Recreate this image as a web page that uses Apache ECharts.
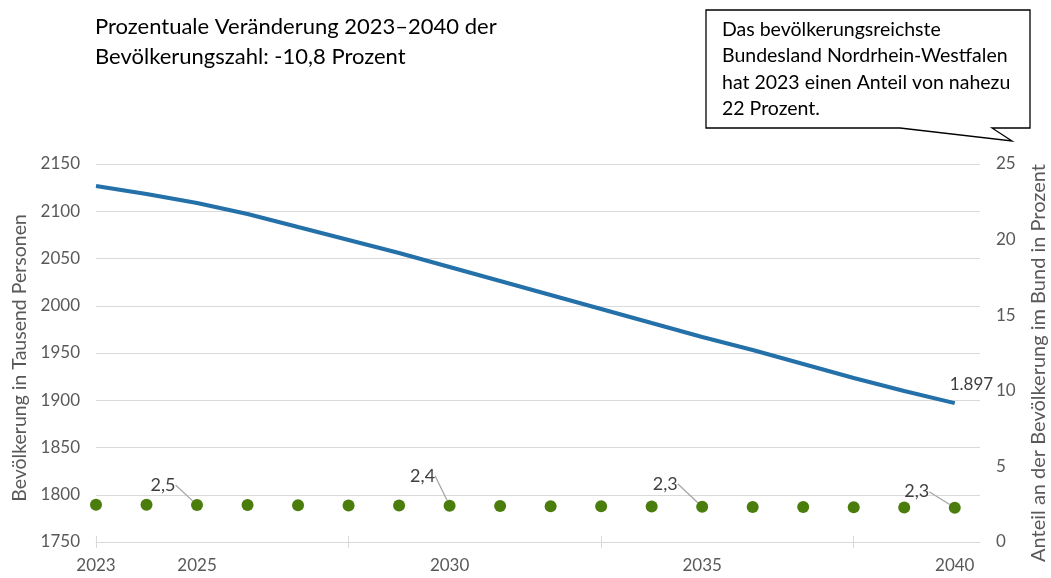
<!DOCTYPE html>
<html>
<head>
<meta charset="utf-8">
<script src="https://cdn.jsdelivr.net/npm/echarts@6/dist/echarts.min.js"></script>
<style>
html,body{margin:0;padding:0;background:#fff;}
#c{width:1051px;height:578px;}
</style>
</head>
<body>
<div id="c"></div>
<script>
const years = [2023,2024,2025,2026,2027,2028,2029,2030,2031,2032,2033,2034,2035,2036,2037,2038,2039,2040];
const population = [2126.7,2118.3,2108.7,2097.1,2083.3,2069.6,2055.8,2041.0,2026.2,2011.4,1996.6,1981.7,1966.9,1953.2,1938.4,1923.6,1909.8,1897.0];
const share = [2.47,2.46,2.45,2.44,2.43,2.42,2.41,2.40,2.38,2.37,2.36,2.35,2.33,2.32,2.31,2.30,2.28,2.27];
const xLabelValues = [2023,2025,2030,2035,2040];
const xTickValues = [2023,2028,2033,2038];
const labeledShareYears = [2025,2030,2035,2040];
const titleLines = ['Prozentuale Veränderung 2023–2040 der','Bevölkerungszahl: -10,8 Prozent'];
const calloutLines = ['Das bevölkerungsreichste','Bundesland Nordrhein-Westfalen','hat 2023 einen Anteil von nahezu','22 Prozent.'];
const leftAxisName = 'Bevölkerung in Tausend Personen';
const rightAxisName = 'Anteil an der Bevölkerung im Bund in Prozent';

const FONT = 'Lato';
const TXT = '#595959';
const labelOffsets = {2025:[-34,-20],2030:[-27,-30],2035:[-37,-23],2040:[-38,-16]};

const chart = echarts.init(document.getElementById('c'), null, {renderer:'canvas'});
const fmt = v => v.toFixed(1).replace('.', ',');

chart.setOption({
  animation:false,
  textStyle:{fontFamily:FONT},
  grid:{left:96,right:71,top:164,bottom:36,containLabel:false,outerBoundsMode:'none'},
  xAxis:[{
    type:'value', min:2023, max:2040.5,
    axisLine:{show:true,lineStyle:{color:'#d9d9d9',width:1}},
    axisTick:{show:true,customValues:xTickValues,length:6,lineStyle:{color:'#d9d9d9'}},
    axisLabel:{show:true,customValues:xLabelValues,color:TXT,fontSize:17,fontFamily:FONT,margin:15,formatter:v=>String(v)},
    splitLine:{show:false}
  },{
    type:'value', min:2023, max:2040.5, position:'bottom',
    axisLine:{show:false},
    axisTick:{show:true,inside:true,customValues:xTickValues,length:6,lineStyle:{color:'#d9d9d9'}},
    axisLabel:{show:false},
    splitLine:{show:false}
  }],
  yAxis:[{
    type:'value', min:1750, max:2150, interval:50,
    name:leftAxisName, nameLocation:'middle', nameGap:64, nameRotate:90,
    nameTextStyle:{color:TXT,fontSize:19.5,fontFamily:FONT,padding:[0,10,0,0]},
    axisLine:{show:false}, axisTick:{show:false},
    axisLabel:{color:TXT,fontSize:17,fontFamily:FONT,margin:16,formatter:v=>String(v)},
    splitLine:{show:true,lineStyle:{color:'#d9d9d9',width:1}}
  },{
    type:'value', min:0, max:25, interval:5, position:'right',
    name:rightAxisName, nameLocation:'middle', nameGap:49, nameRotate:90,
    nameTextStyle:{color:TXT,fontSize:20,fontFamily:FONT,padding:[0,20,0,0]},
    axisLine:{show:false}, axisTick:{show:false},
    axisLabel:{color:TXT,fontSize:17,fontFamily:FONT,margin:16,formatter:v=>String(v)},
    splitLine:{show:false}
  }],
  series:[{
    type:'line', xAxisIndex:0, yAxisIndex:0,
    data: years.map((y,i)=>[y,population[i]]),
    showSymbol:false, symbol:'none',
    lineStyle:{color:'#2470a8',width:4},
    itemStyle:{color:'#2470a8'},
    endLabel:{show:true,formatter:p=>Math.round(p.value[1]).toLocaleString('de-DE'),color:'#404040',fontSize:17,fontFamily:FONT,offset:[-13,-19]}
  },{
    type:'scatter', xAxisIndex:0, yAxisIndex:1,
    data: years.map((y,i)=>({
      value:[y,share[i]],
      label:{show:labeledShareYears.includes(y)}
    })),
    symbol:'circle', symbolSize:12,
    itemStyle:{color:'#4a7d0c',opacity:1},
    label:{show:false,position:'inside',formatter:p=>fmt(p.value[1]),color:'#404040',fontSize:18,fontFamily:FONT},
    labelLine:{show:true,lineStyle:{color:'#a6a6a6',width:1.3}},
    labelLayout:function(p){
      const y = years[p.dataIndex];
      const o = labelOffsets[y];
      if(!o) return {};
      return {dx:o[0],dy:o[1]};
    },
    z:3
  }],
  graphic:[
    {type:'text',left:95,top:12,style:{text:titleLines.join('\n'),font:'22px '+FONT,fill:'#000',lineHeight:30}},
    {type:'polygon',shape:{points:[[706,10],[1030,10],[1030,128],[992,128],[1012,141],[900,128],[706,128]]},style:{fill:'#fff',stroke:'#000',lineWidth:1.3},z:10},
    {type:'text',left:722,top:16,style:{text:calloutLines.join('\n'),font:'19.5px '+FONT,fill:'#000',lineHeight:26.5},z:11}
  ]
});
</script>
</body>
</html>
